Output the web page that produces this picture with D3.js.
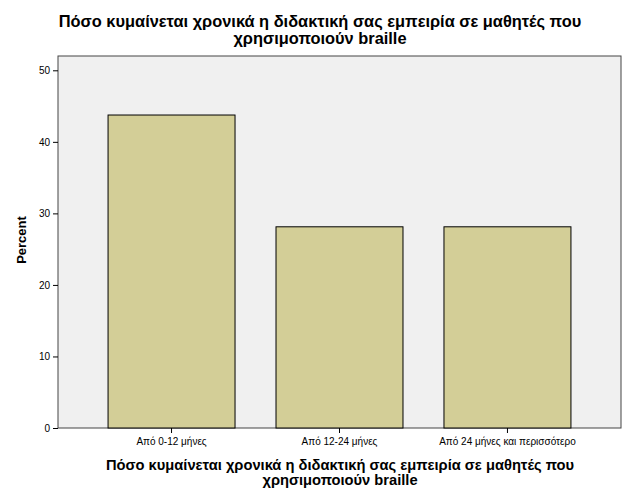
<!DOCTYPE html>
<html><head><meta charset="utf-8">
<script src="https://cdn.jsdelivr.net/npm/d3@7"></script>
<style>body{margin:0;background:#fff}text{font-family:Arial,"Liberation Sans",sans-serif}</style>
</head><body><svg id="c" width="627" height="502"></svg>
<script>
const categories = ["Από 0-12 μήνες","Από 12-24 μήνες","Από 24 μήνες και περισσότερο"];
const values = [43.75, 28.125, 28.125];
const yTicks = [0,10,20,30,40,50];
const titleLines = ["Πόσο κυμαίνεται χρονικά η διδακτική σας εμπειρία σε μαθητές που","χρησιμοποιούν braille"];
const yLabel = "Percent";

const svg = d3.select("#c");
const m = {l:58, r:621, t:56, b:428};
const x = d3.scaleBand().domain(categories).range([m.l, m.r]).paddingInner(0.244).paddingOuter(0.298);
const y = d3.scaleLinear().domain([0,52]).range([m.b, m.t]);

svg.append("rect").attr("x",m.l).attr("y",m.t).attr("width",m.r-m.l).attr("height",m.b-m.t)
  .attr("fill","#f0f0f0").attr("stroke","#444").attr("stroke-width",1);

svg.selectAll(".bar").data(values).enter().append("rect")
  .attr("x",(d,i)=>x(categories[i])).attr("width",x.bandwidth())
  .attr("y",d=>y(d)).attr("height",d=>y(0)-y(d))
  .attr("fill","#d3ce97").attr("stroke","#000").attr("stroke-width",1);

const ya = svg.append("g").attr("transform",`translate(${m.l},0)`)
  .call(d3.axisLeft(y).tickValues(yTicks).tickSize(5).tickSizeOuter(0));
ya.select(".domain").remove();
ya.selectAll("text").attr("font-size",10).attr("fill","#000");
const xa = svg.append("g").attr("transform",`translate(0,${m.b})`)
  .call(d3.axisBottom(x).tickSize(5).tickSizeOuter(0));
xa.select(".domain").remove();
xa.selectAll("text").attr("font-size",10).attr("fill","#000").attr("dy","0.9em");

svg.append("g").selectAll("text").data(titleLines).enter().append("text")
  .attr("x",320).attr("y",(d,i)=>27+i*17).attr("text-anchor","middle")
  .attr("font-size",16.4).attr("font-weight","bold").text(d=>d);
svg.append("g").selectAll("text").data(titleLines).enter().append("text")
  .attr("x",340).attr("y",(d,i)=>470+i*15).attr("text-anchor","middle")
  .attr("font-size",14.7).attr("font-weight","bold").text(d=>d);
svg.append("text").attr("transform","translate(26,240) rotate(-90)").attr("text-anchor","middle")
  .attr("font-size",13).attr("font-weight","bold").text(yLabel);
</script></body></html>
